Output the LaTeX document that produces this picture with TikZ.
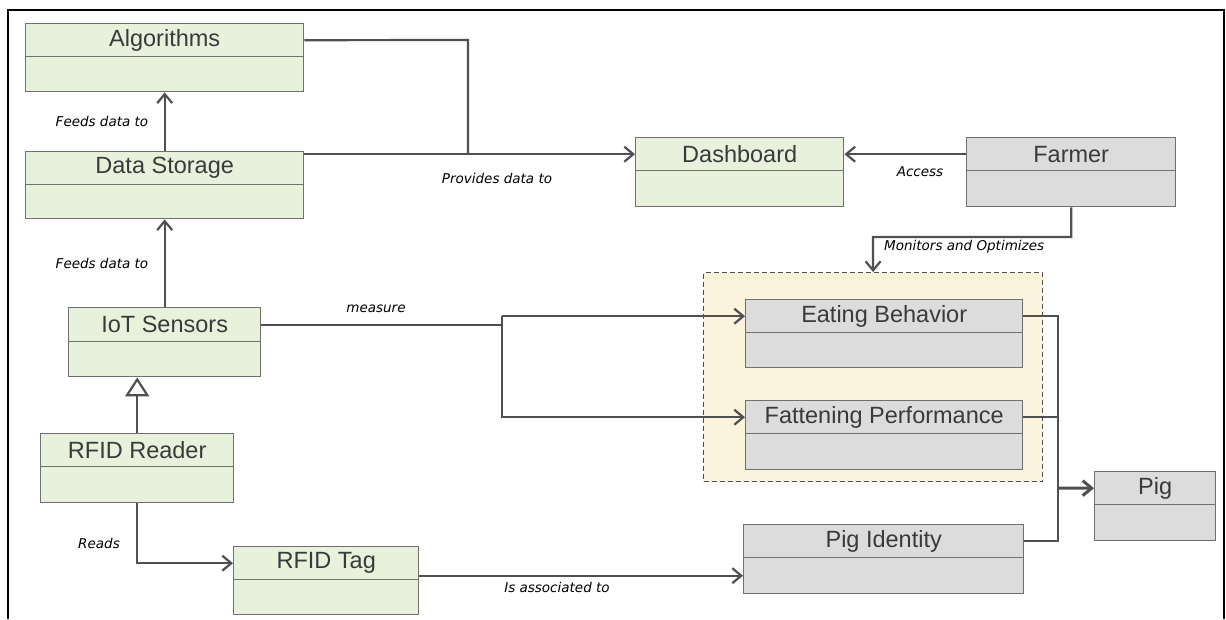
\documentclass[tikz,border=0pt]{standalone}
\usepackage{fontspec}
\setmainfont{Liberation Sans}
\newfontfamily\lblfont{DejaVu Sans}
\usetikzlibrary{arrows.meta}

\definecolor{boxgreen}{RGB}{232,241,220}
\definecolor{boxgray}{RGB}{220,220,220}
\definecolor{edgegray}{RGB}{112,112,112}
\definecolor{ink}{RGB}{58,58,58}
\definecolor{wire}{RGB}{80,80,80}
\definecolor{cream}{RGB}{252,243,220}

\tikzset{
  classpart/.style={draw=edgegray, line width=1.4pt, inner sep=0pt, anchor=north west},
  classtitle/.style={classpart, font=\fontsize{23.5}{25}\selectfont, text=ink},
  wire/.style={draw=wire, line width=2.2pt},
  arr/.style={wire, -{Straight Barb[length=9pt,width=15pt]}},
  genarr/.style={wire, -{Triangle[open,length=19pt,width=24pt,fill=white]}},
  lbl/.style={font=\lblfont\itshape\fontsize{13.5}{15}\selectfont, text=black, inner sep=0pt},
  grpbox/.style={draw=wire, fill=cream, line width=1.2pt, dash pattern=on 5pt off 3pt,
                 inner sep=0pt, anchor=north west},
}

% class box: name, left, top, divider, right, bottom, fill, title
\newcommand\classbox[8]{%
  \node[classtitle, fill=#7, minimum width={(#5-#2)*1pt}, minimum height={(#4-#3)*1pt}] (#1) at (#2,#3) {#8};
  \node[classpart, fill=#7, minimum width={(#5-#2)*1pt}, minimum height={(#6-#4)*1pt}] (#1-b) at (#2,#4) {};
}

\begin{document}
\begin{tikzpicture}[x=1pt, y=-1pt]
\useasboundingbox (0,0) rectangle (1226,619);

% outer frame, open at the bottom
\draw[line width=2pt] (8,619) -- (8,10) -- (1224,10) -- (1224,619);

% grouping of the measured pig features
\node[grpbox, minimum width=339pt, minimum height=209pt] (grp) at (703,272) {};

% classes
\classbox{alg}{25}{23}{56}{303}{91}{boxgreen}{Algorithms}
\classbox{ds}{25}{151}{184}{303}{218}{boxgreen}{Data Storage}
\classbox{dash}{635}{137}{170}{843}{206}{boxgreen}{Dashboard}
\classbox{farmer}{966}{137}{170}{1175}{206}{boxgray}{Farmer}
\classbox{iot}{68}{307}{341}{260}{376}{boxgreen}{IoT Sensors}
\classbox{rr}{40}{433}{466}{233}{502}{boxgreen}{RFID Reader}
\classbox{tag}{233}{546}{579}{418}{614}{boxgreen}{RFID Tag}
\classbox{eat}{745}{299}{332}{1022}{367}{boxgray}{Eating Behavior}
\classbox{fat}{745}{400}{433}{1022}{469}{boxgray}{Fattening Performance}
\classbox{pid}{743}{524}{557}{1023}{593}{boxgray}{Pig Identity}
\classbox{pig}{1094}{471}{504}{1215}{540}{boxgray}{Pig}

% helper points for bends and junctions
\coordinate (algbend) at (468,40);
\coordinate (mobend) at (873,237);
\coordinate (msplit) at (502,0);
\coordinate (pigjoin) at (1058,488);

% connectors
\draw[arr] (ds.north) -- (alg-b.south);
\draw[arr] (iot.north) -- (ds-b.south);
\draw[genarr] (rr.north) -- (rr.north |- iot-b.south);
\draw[arr] (rr-b.south) |- (tag.west);
\draw[arr] (pid-b.west -| tag.east) -- (pid-b.west);

\draw[wire] (alg.east) -- (algbend) -- (algbend |- dash.west);
\draw[arr] (dash.west -| ds.east) -- (dash.west);
\draw[arr] (farmer.west) -- (dash.east);
\draw[arr] (farmer-b.south) |- (mobend) -- (grp.north);

\draw[wire] (iot.east) -- (iot.east -| msplit);
\draw[arr] (msplit |- eat.west) -- (eat.west);
\draw[arr] (msplit |- eat.west) |- (fat.west);

\draw[wire] (eat.east) -| (pigjoin);
\draw[wire] (fat.east) -| (pigjoin);
\draw[wire] (pid.east) -| (pigjoin);
\draw[arr, line width=3pt] (pigjoin) -- (pig.west);

% connector labels
\node[lbl] (l1) at (102,121) {Feeds data to};
\node[lbl] (l2) at (102,263) {Feeds data to};
\node[lbl] (l3) at (497,178) {Provides data to};
\node[lbl] (l4) at (920,172) {Access};
\node[lbl, anchor=west] (l5) at (884,247) {Monitors and Optimizes};
\node[lbl] (l6) at (376,309) {measure};
\node[lbl] (l7) at (99,543) {Reads};
\node[lbl] (l8) at (557,587) {Is associated to};
\end{tikzpicture}
\end{document}
